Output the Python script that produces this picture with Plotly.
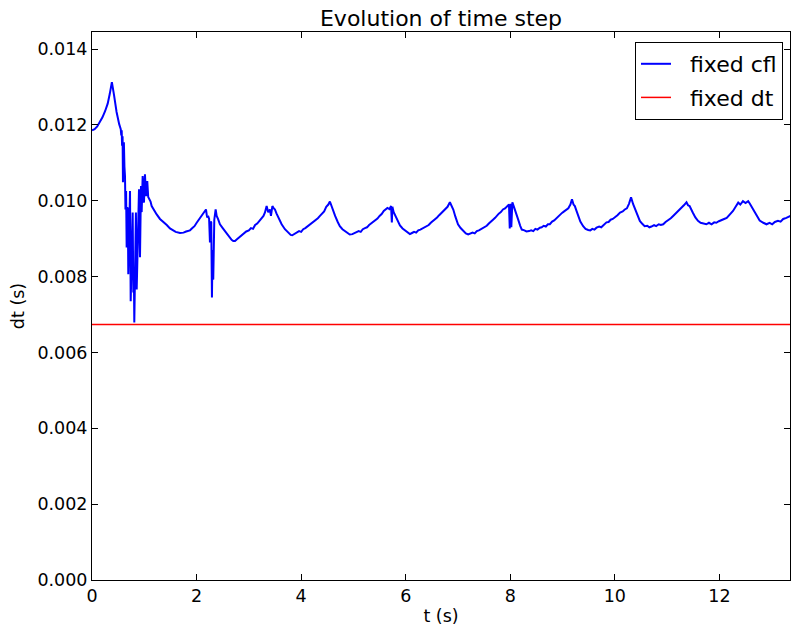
import plotly.graph_objects as go

# --- data (t in s, dt in s) ---
t_start = [0.00, 0.05, 0.10, 0.15, 0.20, 0.25, 0.30, 0.34, 0.38, 0.42, 0.47, 0.52, 0.535, 0.55, 0.56,
           0.568, 0.575, 0.585, 0.592, 0.600, 0.610, 0.620, 0.631, 0.640, 0.652, 0.663, 0.675, 0.685,
           0.694, 0.710, 0.727, 0.740, 0.759, 0.770, 0.778, 0.790, 0.800, 0.809, 0.822, 0.840, 0.855,
           0.874, 0.899, 0.918, 0.937, 0.950, 0.969, 0.994, 1.013, 1.033, 1.057, 1.075, 1.096, 1.12,
           1.141, 1.19, 1.237, 1.30, 1.363, 1.43, 1.491, 1.55, 1.60, 1.683, 1.75, 1.80, 1.874, 1.92,
           1.96, 2.002, 2.04, 2.08, 2.128, 2.16, 2.180, 2.195, 2.205, 2.22, 2.240, 2.256, 2.270, 2.281,
           2.294, 2.305, 2.319, 2.330, 2.339, 2.365, 2.384, 2.41, 2.447, 2.50, 2.543, 2.60, 2.639, 2.67,
           2.702, 2.735, 2.767, 2.81, 2.862, 2.90, 2.95, 3.00, 3.04, 3.08, 3.12, 3.16, 3.20, 3.24, 3.28,
           3.308, 3.34, 3.37, 3.403, 3.423, 3.45, 3.467, 3.499, 3.53, 3.562, 3.60, 3.627, 3.69, 3.753,
           3.80, 3.83]
dt_start = [0.01186, 0.01189, 0.01196, 0.01208, 0.01220, 0.01236, 0.01256, 0.01282, 0.01313, 0.01280,
            0.01234, 0.01202, 0.01194, 0.01189, 0.01172, 0.01186, 0.01145, 0.01170, 0.01049, 0.01120,
            0.01154, 0.01090, 0.01065, 0.00977, 0.01026, 0.00877, 0.00983, 0.00977, 0.00806, 0.00960,
            0.01026, 0.00735, 0.00907, 0.00969, 0.00969, 0.00758, 0.00819, 0.00679, 0.00864, 0.00969,
            0.00766, 0.00920, 0.01030, 0.00851, 0.01039, 0.00970, 0.01065, 0.00995, 0.01070, 0.01012,
            0.01052, 0.01010, 0.01004, 0.00998, 0.00986, 0.00974, 0.00964, 0.00952, 0.00945, 0.00936,
            0.00927, 0.00921, 0.00918, 0.00915, 0.00916, 0.00919, 0.00922, 0.00928, 0.00933, 0.00942,
            0.00950, 0.00958, 0.00969, 0.00973, 0.00977, 0.00962, 0.00956, 0.00960, 0.00952, 0.00890,
            0.00945, 0.00943, 0.00745, 0.00870, 0.00792, 0.00940, 0.00950, 0.00977, 0.00960, 0.00952,
            0.00938, 0.00928, 0.00920, 0.00910, 0.00903, 0.00897, 0.00894, 0.00894, 0.00898, 0.00903,
            0.00911, 0.00914, 0.00919, 0.00922, 0.00928, 0.00926, 0.00936, 0.00940, 0.00946, 0.00952,
            0.00960, 0.00969, 0.00986, 0.00970, 0.00977, 0.00960, 0.00986, 0.00982, 0.00977, 0.00966,
            0.00956, 0.00944, 0.00938, 0.00925, 0.00916, 0.00910, 0.00909]

t_mid = [3.87, 3.92, 3.96, 4.00, 4.04, 4.08, 4.12, 4.16, 4.20, 4.24, 4.28, 4.32, 4.36, 4.40, 4.44, 4.48,
         4.52, 4.55, 4.58, 4.61, 4.65, 4.70, 4.74, 4.79, 4.84, 4.88, 4.93, 4.98,
         5.02, 5.06, 5.10, 5.14, 5.18, 5.22, 5.26, 5.30, 5.34, 5.38, 5.42, 5.46, 5.50, 5.54, 5.58, 5.62,
         5.65, 5.69, 5.72, 5.735, 5.745, 5.77, 5.80, 5.85, 5.89, 5.94, 5.985, 6.04, 6.08,
         6.12, 6.16, 6.20, 6.24, 6.28, 6.32, 6.36, 6.40, 6.44, 6.48, 6.52, 6.56, 6.60, 6.64, 6.68, 6.72,
         6.76, 6.80, 6.845, 6.88, 6.91, 6.95, 7.00, 7.05, 7.10, 7.15, 7.195, 7.24, 7.28, 7.32, 7.36,
         7.40, 7.44, 7.48, 7.52, 7.55, 7.59, 7.63, 7.67, 7.71, 7.74, 7.78, 7.82, 7.86, 7.90, 7.94, 7.975,
         7.99, 8.005, 8.02, 8.04, 8.07, 8.09, 8.12, 8.15, 8.19, 8.22, 8.27, 8.31, 8.36]
dt_mid = [0.00912, 0.00915, 0.00920, 0.00918, 0.00925, 0.00928, 0.00932, 0.00936, 0.00942, 0.00945,
          0.00950, 0.00954, 0.00960, 0.00966, 0.00972, 0.00984, 0.00990, 0.00998, 0.00986, 0.00978,
          0.00960, 0.00944, 0.00933, 0.00925, 0.00920, 0.00914, 0.00911, 0.00912,
          0.00914, 0.00916, 0.00920, 0.00918, 0.00925, 0.00928, 0.00930, 0.00936, 0.00940, 0.00944,
          0.00950, 0.00953, 0.00960, 0.00965, 0.00973, 0.00978, 0.00981, 0.00978, 0.00986, 0.00943,
          0.00984, 0.00970, 0.00962, 0.00945, 0.00935, 0.00927, 0.00922, 0.00916, 0.00912,
          0.00915, 0.00918, 0.00916, 0.00922, 0.00924, 0.00927, 0.00930, 0.00932, 0.00936, 0.00942,
          0.00946, 0.00952, 0.00956, 0.00962, 0.00968, 0.00972, 0.00980, 0.00984, 0.00996, 0.00984,
          0.00977, 0.00958, 0.00938, 0.00928, 0.00920, 0.00914, 0.00911, 0.00914, 0.00916, 0.00914,
          0.00920, 0.00922, 0.00925, 0.00928, 0.00930, 0.00934, 0.00940, 0.00944, 0.00950, 0.00955,
          0.00960, 0.00966, 0.00970, 0.00977, 0.00980, 0.00986, 0.00990, 0.00927, 0.00992, 0.00930,
          0.00996, 0.00984, 0.00977, 0.00962, 0.00951, 0.00934, 0.00924, 0.00922, 0.00919, 0.00920]

t_end = [8.40, 8.44, 8.48, 8.52, 8.566, 8.60, 8.64, 8.68, 8.72, 8.757, 8.80, 8.84, 8.88, 8.92, 8.948,
         8.99, 9.03, 9.076, 9.11, 9.15, 9.18, 9.21, 9.235, 9.27, 9.298, 9.34, 9.394, 9.44, 9.49, 9.53,
         9.57, 9.61, 9.65, 9.70, 9.74, 9.79, 9.84, 9.88, 9.92, 9.96, 10.00, 10.05, 10.10, 10.15, 10.19,
         10.23, 10.27, 10.31, 10.35, 10.38, 10.415, 10.45, 10.478, 10.52, 10.57, 10.62, 10.66, 10.70,
         10.75, 10.79, 10.84, 10.88, 10.925, 10.97, 11.02, 11.07, 11.115, 11.16, 11.20, 11.243, 11.28,
         11.32, 11.37, 11.40, 11.43, 11.46, 11.49, 11.54, 11.59, 11.64, 11.70, 11.75, 11.80, 11.85,
         11.90, 11.94, 11.99, 12.04, 12.09, 12.14, 12.20, 12.26, 12.31, 12.36, 12.40, 12.45, 12.50,
         12.55, 12.58, 12.61, 12.66, 12.71, 12.77, 12.84, 12.90, 12.96, 13.01, 13.06, 13.12, 13.17,
         13.22, 13.28, 13.32, 13.36]
dt_end = [0.00922, 0.00920, 0.00926, 0.00924, 0.00929, 0.00930, 0.00934, 0.00932, 0.00938, 0.00938,
          0.00945, 0.00948, 0.00954, 0.00958, 0.00964, 0.00968, 0.00972, 0.00977, 0.00980, 0.00990,
          0.01004, 0.00990, 0.00986, 0.00972, 0.00960, 0.00945, 0.00933, 0.00926, 0.00923, 0.00922,
          0.00926, 0.00924, 0.00929, 0.00932, 0.00930, 0.00938, 0.00943, 0.00944, 0.00950, 0.00952,
          0.00956, 0.00962, 0.00969, 0.00972, 0.00977, 0.00980, 0.00992, 0.01009, 0.00991, 0.00980,
          0.00969, 0.00956, 0.00947, 0.00940, 0.00933, 0.00934, 0.00930, 0.00932, 0.00936, 0.00933,
          0.00938, 0.00936, 0.00938, 0.00944, 0.00948, 0.00954, 0.00960, 0.00966, 0.00970, 0.00977,
          0.00980, 0.00988, 0.00996, 0.00988, 0.00986, 0.00976, 0.00969, 0.00956, 0.00947, 0.00942,
          0.00940, 0.00938, 0.00942, 0.00938, 0.00943, 0.00942, 0.00946, 0.00948, 0.00952, 0.00955,
          0.00964, 0.00973, 0.00984, 0.00995, 0.00990, 0.00999, 0.00994, 0.00999, 0.00993, 0.00986,
          0.00972, 0.00960, 0.00948, 0.00942, 0.00938, 0.00942, 0.00938, 0.00944, 0.00947, 0.00945,
          0.00952, 0.00955, 0.00958, 0.00960]

t_fixed = [0.0, 13.36]
dt_fixed = [0.006736, 0.006736]

x_ticks = [0, 2, 4, 6, 8, 10, 12]
y_ticks = [0.000, 0.002, 0.004, 0.006, 0.008, 0.010, 0.012, 0.014]

t_cfl = t_start + t_mid + t_end
dt_cfl = dt_start + dt_mid + dt_end

FONT = "DejaVu Sans"
TOP, BOTTOM, LEFT, RIGHT = 32, 580, 92, 790
NB = "\u00a0\u00a0"

fig = go.Figure()
fig.add_trace(go.Scatter(x=t_cfl, y=dt_cfl, mode="lines", name=NB + "fixed cfl", legendgroup="a",
                         line=dict(color="#0000ff", width=2.0)))
fig.add_trace(go.Scatter(x=t_fixed, y=dt_fixed, mode="lines", name=NB + "fixed dt", legendgroup="b",
                         line=dict(color="#ff0000", width=1.5)))

axis_common = dict(showline=True, linecolor="black", linewidth=1, mirror="allticks",
                   ticks="inside", ticklen=6, tickwidth=1, tickcolor="black",
                   showgrid=False, zeroline=False,
                   tickfont=dict(family=FONT, size=17.5, color="black"))

fig.update_layout(
    width=791, height=631,
    margin=dict(l=LEFT, r=791 - RIGHT, t=TOP, b=631 - BOTTOM),
    paper_bgcolor="white", plot_bgcolor="white",
    font=dict(family=FONT, color="black", size=17.5),
    title=dict(text="Evolution of time step", x=(LEFT + RIGHT) / 2 / 791, xanchor="center",
               y=1 - 18 / 631, yanchor="middle", yref="container",
               font=dict(family=FONT, size=22, color="black")),
    xaxis=dict(range=[0, 13.35], tickvals=x_ticks, ticktext=[str(v) for v in x_ticks],
               title=dict(text="t (s)", font=dict(family=FONT, size=17.5), standoff=4),
               **axis_common),
    yaxis=dict(range=[0, 0.01445], tickvals=y_ticks, ticktext=[f"{v:.3f}" for v in y_ticks],
               title=dict(text="dt (s)", font=dict(family=FONT, size=17.5), standoff=8),
               **axis_common),
    legend=dict(x=(783 - LEFT) / (RIGHT - LEFT), xanchor="right",
                y=(BOTTOM - 42) / (BOTTOM - TOP), yanchor="top",
                bgcolor="white", bordercolor="black", borderwidth=1,
                font=dict(family=FONT, size=22, color="black"),
                tracegroupgap=2, itemwidth=30),
    showlegend=True,
)

fig.write_html("out.html")
